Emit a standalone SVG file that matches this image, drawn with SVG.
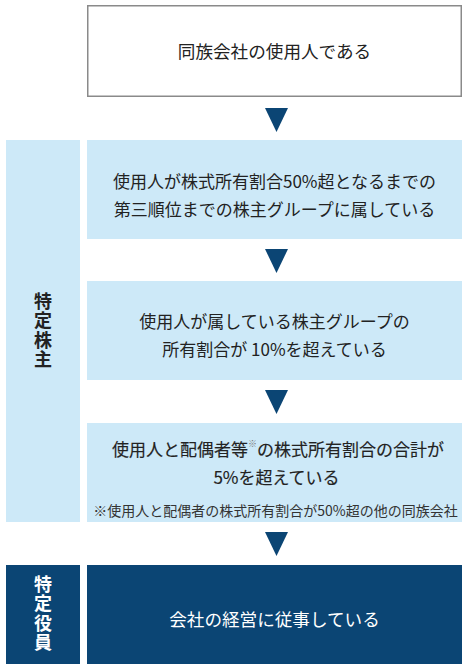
<svg xmlns="http://www.w3.org/2000/svg" width="468" height="670" viewBox="0 0 468 670">
<style>
text{font-family:"Noto Sans CJK JP","Noto Sans",sans-serif;}
.t{font-size:17px;fill:#222;text-anchor:middle;dominant-baseline:central;}
.m{stroke:#222;stroke-width:0.15px;}
.fn{font-size:14px;fill:#333;text-anchor:middle;dominant-baseline:central;}
.lb{font-size:18px;font-weight:700;text-anchor:middle;writing-mode:vertical-rl;letter-spacing:1.5px;}
.light{fill:#cde9f8;}
.dark{fill:#0b4574;}
.arr{fill:#0b4574;}
</style>
<rect width="468" height="670" fill="#ffffff"/>
<g id="side-tokutei-kabunushi">
<rect class="light" x="6" y="140" width="74" height="382"/>
<text class="lb" x="43" y="331" fill="#222">特定株主</text>
</g>
<g id="side-tokutei-yakuin">
<rect class="dark" x="6" y="565" width="74" height="99"/>
<text class="lb" x="43" y="614" fill="#ffffff">特定役員</text>
</g>
<g id="node-start">
<rect x="87.75" y="5.75" width="373.5" height="90.5" fill="#ffffff" stroke="#8a8a8a" stroke-width="1.5"/>
<text class="t" x="274.5" y="50" style="font-size:17.6px">同族会社の使用人である</text>
</g>
<g id="node-group">
<rect class="light" x="87" y="140" width="375" height="99"/>
<text class="t" x="274.5" y="180">使用人が株式所有割合50%超となるまでの</text>
<text class="t" x="274.5" y="208">第三順位までの株主グループに属している</text>
</g>
<g id="node-ratio">
<rect class="light" x="87" y="281" width="375" height="99"/>
<text class="t" x="274.5" y="320">使用人が属している株主グループの</text>
<text class="t" x="274.5" y="348">所有割合が 10%を超えている</text>
</g>
<g id="node-spouse">
<rect class="light" x="87" y="423" width="375" height="99"/>
<text class="t m" x="278" y="448">使用人と配偶者等<tspan font-size="9" dy="-5" fill="#777" stroke="none">※</tspan><tspan dy="5">の株式所有割合の合計が</tspan></text>
<text class="t m" x="276.5" y="476">5%を超えている</text>
<text class="fn" x="275.5" y="510">※使用人と配偶者の株式所有割合が50%超の他の同族会社</text>
</g>
<g id="node-management">
<rect class="dark" x="87" y="565" width="375" height="99"/>
<text class="t" x="274.5" y="618" style="fill:#ffffff;font-size:17.6px">会社の経営に従事している</text>
</g>
<g id="connectors">
<polygon class="arr" points="265,108 288,108 276.5,132"/>
<polygon class="arr" points="265,249 288,249 276.5,273"/>
<polygon class="arr" points="265,390 288,390 276.5,414"/>
<polygon class="arr" points="265,532 288,532 276.5,556"/>
</g>
</svg>
